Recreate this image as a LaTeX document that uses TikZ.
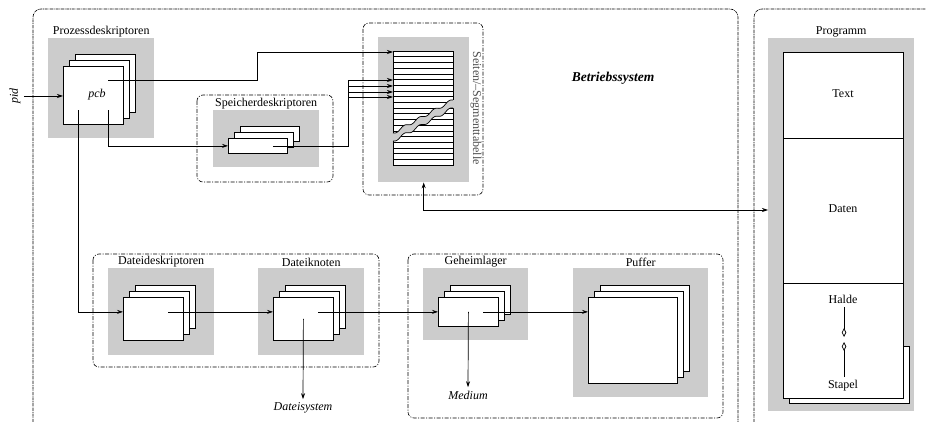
\documentclass[tikz,border=0pt]{standalone}
\usepackage{fontspec}
\setmainfont{Liberation Serif}
\usetikzlibrary{arrows.meta}

% drei gestapelte Blaetter, das vordere ist der Knoten #1
\newcommand{\blattstapel}[5]{%
  \foreach \d in {12,6}
    \draw[blatt] (#2+\d,#3-\d) rectangle ++(#4,#5);
  \node[blatt, inner sep=0pt, anchor=north west, minimum width=#4pt, minimum height=#5pt] (#1) at (#2,#3) {};
}

\begin{document}
\begin{tikzpicture}[x=1pt, y=-1pt,
    grau/.style={fill=black!20, inner sep=0pt, anchor=north west},
    blatt/.style={draw, fill=white, line width=0.8pt},
    rahmen/.style={draw, line width=0.6pt, dash pattern=on 4pt off 1.5pt on 1pt off 1.5pt, rounded corners=6pt},
    aussen/.style={draw, line width=0.6pt, dash pattern=on 3pt off 0.8pt on 0.8pt off 0.8pt, rounded corners=8pt},
    titel/.style={font=\fontsize{12}{14}\selectfont},
    kopf/.style={font=\fontsize{12}{14}\selectfont, anchor=south, inner sep=1pt},
    kursiv/.style={font=\fontsize{12}{14}\selectfont\itshape},
    pfeil/.style={draw, line width=0.7pt, -{Stealth[length=6pt,width=4pt]}},
    raute/.style={draw, line width=0.7pt, -{Diamond[open,length=9pt,width=4.5pt]}}]
  \useasboundingbox (0,0) rectangle (926,422);

  % Rahmen
  \draw[aussen] (33,422) -- (33,9) -- (738,9) -- (738,422);
  \draw[aussen] (754,422) -- (754,9) -- (926,9);
  \draw[rahmen] (197,95) rectangle (333,182);
  \draw[rahmen] (363,23) rectangle (483,195);
  \draw[rahmen] (93,254) rectangle (379,367);
  \draw[rahmen] (408,254) rectangle (723,418);

  % graue Flaechen
  \node[grau, minimum width=106pt, minimum height=100pt] (prozgrau) at (48,38) {};
  \node[grau, minimum width=106pt, minimum height=57pt] (speichergrau) at (213,110) {};
  \node[grau, minimum width=91pt, minimum height=145pt] (tabgrau) at (378,37) {};
  \node[grau, minimum width=106pt, minimum height=87pt] (ddeskgrau) at (108,268) {};
  \node[grau, minimum width=106pt, minimum height=87pt] (dknotengrau) at (258,268) {};
  \node[grau, minimum width=105pt, minimum height=72pt] (geheimgrau) at (423,268) {};
  \node[grau, minimum width=135pt, minimum height=129pt] (puffergrau) at (573,268) {};
  \node[grau, minimum width=146pt, minimum height=373pt] (proggrau) at (768,38) {};

  \node[kopf] (prozkopf) at (prozgrau.north) {Prozessdeskriptoren};
  \node[kopf] (speicherkopf) at (speichergrau.north) {Speicherdeskriptoren};
  \node[kopf] (ddeskkopf) at (ddeskgrau.north) {Dateideskriptoren};
  \node[kopf] (dknotenkopf) at (dknotengrau.north) {Dateiknoten};
  \node[kopf] (geheimkopf) at (geheimgrau.north) {Geheimlager};
  \node[kopf] (pufferkopf) at (puffergrau.north) {Puffer};
  \node[kopf] (progkopf) at (proggrau.north) {Programm};

  % Blaetter
  \blattstapel{pcb}{63}{66}{60}{58}
  \blattstapel{speicher}{228}{138}{59}{15}
  \blattstapel{ddesk}{123}{297}{60}{43}
  \blattstapel{dknoten}{273}{297}{60}{43}
  \blattstapel{geheim}{438}{297}{60}{29}
  \blattstapel{puffer}{588}{297}{89}{86}
  \node[kursiv] (pcbtext) at (97,95) {pcb};

  % Seiten-/Segmenttabelle
  \node[draw, fill=white, line width=0.8pt, inner sep=0pt, anchor=north west,
        minimum width=60pt, minimum height=114pt] (tab) at (393,51) {};
  \foreach \i in {1,...,19}
    \draw[line width=0.5pt] (393,51+\i*5.7) -- (453,51+\i*5.7);
  \fill[black!20] plot[domain=-0.05:1.05, samples=50] ({393+60*\x},{133-33*\x+1.5*sin(1440*\x)})
    -- plot[domain=1.05:-0.05, samples=50] ({393+60*\x},{141-33*\x+1.5*sin(1440*\x)}) -- cycle;
  \draw[line width=0.7pt] plot[domain=0:1, samples=50] ({393+60*\x},{133-33*\x+1.5*sin(1440*\x)});
  \draw[line width=0.7pt] plot[domain=0:1, samples=50] ({393+60*\x},{141-33*\x+1.5*sin(1440*\x)});
  \node[titel, rotate=-90, text=black!70] (tabkopf) at (476,108) {Seiten/–Segmenttabelle};

  \node[font=\fontsize{13.5}{16}\selectfont\bfseries\itshape] (bs) at (613,78) {Betriebssystem};

  % Programm
  \draw[blatt] (789,346) rectangle (909,403);
  \node[blatt, inner sep=0pt, anchor=north west, minimum width=120pt, minimum height=346pt] (prog) at (783,52) {};
  \draw[line width=0.8pt] (prog.west |- 0,138) -- (prog.east |- 0,138);
  \draw[line width=0.8pt] (prog.west |- 0,283) -- (prog.east |- 0,283);
  \node[titel] (text) at (843,94) {Text};
  \node[titel] (daten) at (843,209) {Daten};
  \node[titel] (halde) at (843,299) {Halde};
  \node[titel] (stapel) at (843,386) {Stapel};
  \coordinate (mitte) at (844,339.5);
  \draw[raute] (halde.south -| mitte) -- ([yshift=2.5pt]mitte);
  \draw[raute] (stapel.north -| mitte) -- ([yshift=-2.5pt]mitte);

  % Verbindungen
  \node[kursiv, rotate=90] (pid) at (15,96) {pid};
  \draw[pfeil] (pid.south) -- (pid.south -| pcb.west);

  \coordinate (knickA) at (257,52);
  \coordinate (knickB) at (348,144);
  \coordinate (knickC) at (0,210);
  \draw[pfeil] ([shift={(15,-15)}]pcb.center) -| (knickA) -- (knickA -| tab.west);
  \draw[pfeil] ([shift={(15,15)}]pcb.center) |- (speicher.west);
  \draw[line width=0.7pt] ([xshift=15pt]speicher.center) -| (knickB |- 0,80);
  \foreach \y in {80,86,92,97}
    \draw[pfeil] (knickB |- 0,\y) -- (tab.west |- 0,\y);

  \draw[pfeil] ([shift={(-15,15)}]pcb.center) |- ([yshift=7pt]ddesk.west);
  \draw[pfeil] ([xshift=15pt,yshift=7pt]ddesk.center) -- ([yshift=7pt]dknoten.west);
  \draw[pfeil] ([xshift=15pt,yshift=7pt]dknoten.center) -- (geheim.west);
  \draw[pfeil] ([xshift=15pt]geheim.center) -- (geheim.center -| puffer.west);

  \node[kursiv] (dateisystem) at (303,408) {Dateisystem};
  \node[kursiv] (medium) at (468,395) {Medium};
  \draw[pfeil] (dknoten.center) -- (dateisystem.north);
  \draw[pfeil] (geheim.center) -- (medium.north);

  \draw[pfeil, {Stealth[length=6pt,width=4pt]}-{Stealth[length=6pt,width=4pt]}]
    (tabgrau.south) |- (proggrau.west |- knickC);
\end{tikzpicture}
\end{document}
